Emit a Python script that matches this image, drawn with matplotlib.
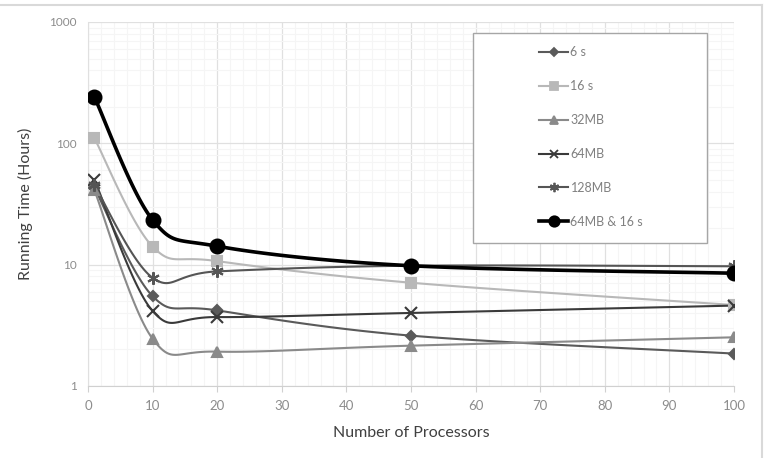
import numpy as np
import matplotlib.pyplot as plt
from matplotlib.patches import Rectangle
from matplotlib.lines import Line2D

# data
processors = [1, 10, 20, 50, 100]
labels = ['6 s', '16 s', '32MB', '64MB', '128MB', '64MB & 16 s']
t_6s = [43, 5.5, 4.2, 2.6, 1.85]
t_16s = [110, 14.1, 10.7, 7.1, 4.65]
t_32mb = [41, 2.45, 1.92, 2.15, 2.52]
t_64mb = [50, 4.15, 3.7, 4.0, 4.6]
t_128mb = [45, 7.8, 8.8, 9.8, 9.7]
t_64mb_16s = [240, 23.4, 14.2, 9.8, 8.5]

series = [t_6s, t_16s, t_32mb, t_64mb, t_128mb, t_64mb_16s]
colors = ['#5a5a5a', '#b8b8b8', '#8a8a8a', '#3a3a3a', '#555555', '#000000']
markers = ['D', 's', '^', 'x', (6, 2, 0), 'o']
msizes = [5, 7, 7, 8, 9, 10]
lwidths = [1.5, 1.5, 1.5, 1.5, 1.5, 2.6]


def smooth(x, y, n=30):
    # Catmull-Rom style smoothing (like Excel's smoothed lines), in log space
    x = np.asarray(x, float)
    y = np.log10(np.asarray(y, float))
    px = np.concatenate([[x[0]], x, [x[-1]]])
    py = np.concatenate([[y[0]], y, [y[-1]]])
    xs, ys = [], []
    t = np.linspace(0, 1, n)
    for i in range(1, len(px) - 2):
        p0 = np.array([px[i], py[i]])
        p3 = np.array([px[i + 1], py[i + 1]])
        c1 = p0 + (np.array([px[i + 1], py[i + 1]]) - np.array([px[i - 1], py[i - 1]])) / 6
        c2 = p3 - (np.array([px[i + 2], py[i + 2]]) - np.array([px[i], py[i]])) / 6
        b = ((1 - t) ** 3)[:, None] * p0 + (3 * (1 - t) ** 2 * t)[:, None] * c1 \
            + (3 * (1 - t) * t ** 2)[:, None] * c2 + (t ** 3)[:, None] * p3
        xs.extend(b[:, 0])
        ys.extend(b[:, 1])
    return np.array(xs), 10 ** np.array(ys)


plt.rcParams['font.family'] = ['Lato', 'DejaVu Sans']

fig = plt.figure(figsize=(7.66, 4.58), dpi=100)
ax = fig.add_axes([88 / 766, 1 - 386 / 458, 646 / 766, 364 / 458])

handles = []
for ys, lab, c, m, ms, lw in zip(series, labels, colors, markers, msizes, lwidths):
    sx, sy = smooth(processors, ys)
    ax.plot(sx, sy, color=c, lw=lw, zorder=3)
    ax.plot(processors, ys, ls='none', marker=m, ms=ms, color=c, mec=c,
            mew=1.5, zorder=4)
    handles.append(Line2D([], [], color=c, lw=lw, marker=m, ms=ms * 0.75,
                          mec=c, mew=1.3))

ax.set_yscale('log')
ax.set_ylim(1, 1000)
ax.set_xlim(0, 100)
ax.set_xticks(range(0, 101, 10))
ax.set_xticks(range(0, 101, 2), minor=True)
ax.set_yticks([1, 10, 100, 1000])
ax.set_yticklabels(['1', '10', '100', '1000'])
ax.grid(True, which='major', color='#e0e0e0', lw=0.9)
ax.grid(True, which='minor', color='#f5f5f5', lw=0.8)
ax.set_axisbelow(True)
for s in ['top', 'right']:
    ax.spines[s].set_visible(False)
ax.spines['left'].set_color('#e0e0e0')
ax.spines['bottom'].set_color('#d0d0d0')
ax.tick_params(axis='x', which='major', colors='#d0d0d0', labelcolor='#8c8c8c',
               labelsize=9.5, length=4, pad=6)
ax.tick_params(axis='x', which='minor', length=0)
ax.tick_params(axis='y', which='both', length=0, labelcolor='#8c8c8c',
               labelsize=8.5, pad=8)
ax.set_xlabel('Number of Processors', fontsize=11.5, color='#404040', labelpad=10)
ax.set_ylabel('Running Time (Hours)', fontsize=11.5, color='#404040', labelpad=12)

# legend box
x0 = (473 - 88) / 646
y0 = (386 - 243) / 364
ax.add_patch(Rectangle((x0, y0), (707 - 473) / 646, (243 - 33) / 364,
                       transform=ax.transAxes, facecolor='white',
                       edgecolor='#a6a6a6', lw=1, zorder=6))
leg = ax.legend(handles, labels, loc='upper left', frameon=False,
                bbox_to_anchor=((533 - 88) / 646, (386 - 40) / 364),
                fontsize=9, labelcolor='#808080', labelspacing=1.75,
                handlelength=2.3, handletextpad=0.2, borderpad=0)
leg.set_zorder(7)

# outer chart border
fig.add_artist(Line2D([0, 762 / 766], [1 - 5 / 458, 1 - 5 / 458],
                      transform=fig.transFigure, color='#d9d9d9', lw=1.5))
fig.add_artist(Line2D([762 / 766, 762 / 766], [1 - 5 / 458, 0],
                      transform=fig.transFigure, color='#d9d9d9', lw=1.5))

fig.savefig('out.png', dpi=100)
